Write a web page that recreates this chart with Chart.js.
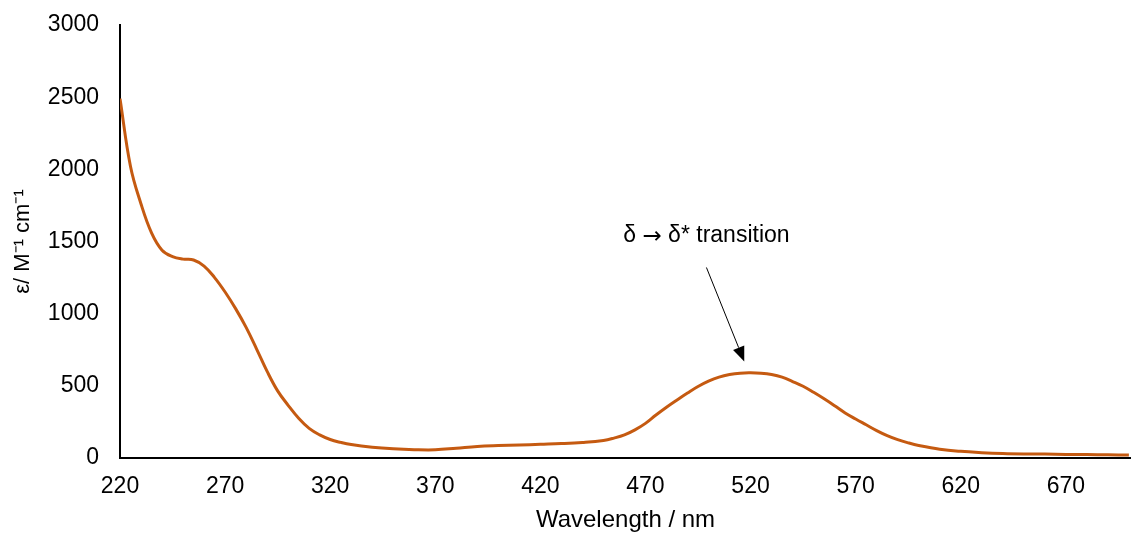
<!DOCTYPE html>
<html>
<head>
<meta charset="utf-8">
<script src="https://cdn.jsdelivr.net/npm/chart.js@4.4.1/dist/chart.umd.min.js"></script>
<style>
  body { margin: 0; background: #fff; }
  #wrap { width: 1131px; height: 535px; }
</style>
</head>
<body>
<div id="wrap"><canvas id="specChart" width="1131" height="535"></canvas></div>
<script>
// absorption spectrum
const wavelengths = [220, 225, 230, 235, 240, 245, 250, 255, 260, 265, 270, 275, 280, 285, 290, 295,
    300, 305, 310, 315, 320, 325, 330, 340, 350, 360, 370, 380, 390, 400, 410, 420, 430, 440,
    450, 455, 460, 465, 470, 475, 480, 485, 490, 495, 500, 505, 510, 515, 520, 525, 530, 535,
    540, 545, 550, 555, 560, 565, 570, 575, 580, 585, 590, 595, 600, 610, 620, 630, 640, 650,
    660, 670, 680, 690, 700];
const epsilon = [2490, 2020, 1760, 1560, 1440, 1395, 1378, 1372, 1330, 1250, 1150, 1035, 905, 755, 600, 465,
    365, 275, 205, 160, 128, 108, 93, 75, 64, 58, 57, 68, 80, 86, 90, 95, 100, 108,
    122, 138, 160, 195, 240, 298, 352, 402, 450, 495, 532, 560, 578, 588, 590, 587, 578, 560,
    530, 497, 455, 410, 362, 312, 270, 230, 190, 155, 127, 105, 87, 61, 46, 37, 31, 28,
    27, 25, 24, 22, 21];
const xTicks = [220, 270, 320, 370, 420, 470, 520, 570, 620, 670];
const yTicks = [0, 500, 1000, 1500, 2000, 2500, 3000];

// label pieces: the arrow glyph comes from DejaVu so it is full size
const annotationParts = ['δ ', '→', ' δ* transition'];
const annotationAt = [499, 1538];      // label centre (nm, epsilon)
const arrowFrom = [499, 1320];
const arrowTo = [517, 668];

const fontFamily = "Arial, 'Liberation Sans', sans-serif";

// text + arrow pointing at the band
const arrowNote = {
    id: 'arrowNote',
    afterDraw(chart) {
        const { ctx, scales: { x, y } } = chart;
        ctx.save();
        ctx.fillStyle = '#000';
        ctx.textAlign = 'left';
        ctx.textBaseline = 'middle';
        const fonts = ['23px ' + fontFamily, '23px "DejaVu Sans"', '23px ' + fontFamily];
        const widths = annotationParts.map((t, i) => { ctx.font = fonts[i]; return ctx.measureText(t).width; });
        const total = widths.reduce((a, b) => a + b, 0);
        let tx = x.getPixelForValue(annotationAt[0]) - total / 2;
        const ty = y.getPixelForValue(annotationAt[1]);
        annotationParts.forEach((t, i) => {
            ctx.font = fonts[i];
            ctx.fillText(t, tx, i === 1 ? ty + 1 : ty);
            tx += widths[i];
        });

        const x1 = x.getPixelForValue(arrowFrom[0]), y1 = y.getPixelForValue(arrowFrom[1]);
        const x2 = x.getPixelForValue(arrowTo[0]), y2 = y.getPixelForValue(arrowTo[1]);
        const ang = Math.atan2(y2 - y1, x2 - x1);
        const headLen = 15, headW = 6;
        ctx.strokeStyle = '#000';
        ctx.lineWidth = 1;
        ctx.beginPath();
        ctx.moveTo(x1, y1);
        ctx.lineTo(x2 - headLen * Math.cos(ang), y2 - headLen * Math.sin(ang));
        ctx.stroke();
        ctx.beginPath();
        ctx.moveTo(x2, y2);
        ctx.lineTo(x2 - headLen * Math.cos(ang) + headW * Math.sin(ang), y2 - headLen * Math.sin(ang) - headW * Math.cos(ang));
        ctx.lineTo(x2 - headLen * Math.cos(ang) - headW * Math.sin(ang), y2 - headLen * Math.sin(ang) + headW * Math.cos(ang));
        ctx.closePath();
        ctx.fill();
        ctx.restore();
    }
};

const ctx = document.getElementById('specChart').getContext('2d');
new Chart(ctx, {
    type: 'line',
    data: {
        datasets: [{
            data: wavelengths.map((w, i) => ({ x: w, y: epsilon[i] })),
            borderColor: '#C55A11',
            borderWidth: 3,
            pointRadius: 0,
            tension: 0.4,
            fill: false
        }]
    },
    options: {
        responsive: false,
        animation: false,
        layout: { padding: { top: 25, right: 0, left: 0, bottom: 0 } },
        plugins: {
            legend: { display: false },
            tooltip: { enabled: false }
        },
        scales: {
            x: {
                type: 'linear',
                min: 220,
                max: 701,
                afterBuildTicks: s => { s.ticks = xTicks.map(v => ({ value: v })); },
                afterFit: s => { s.height = 77; s.paddingLeft = 0; s.paddingRight = 0; },
                grid: { display: false, drawTicks: false },
                border: { display: true, color: '#000', width: 2 },
                ticks: { color: '#000', padding: 15, maxRotation: 0, font: { family: fontFamily, size: 23 } },
                title: {
                    display: true,
                    text: 'Wavelength / nm',
                    color: '#000',
                    padding: { top: 0, bottom: 0 },
                    font: { family: fontFamily, size: 24 }
                }
            },
            y: {
                min: 0,
                max: 3000,
                afterBuildTicks: s => { s.ticks = yTicks.map(v => ({ value: v })); },
                afterFit: s => { s.width = 120; s.paddingTop = 0; s.paddingBottom = 0; },
                grid: { display: false, drawTicks: false },
                border: { display: true, color: '#000', width: 2 },
                ticks: {
                    color: '#000',
                    padding: 21,
                    font: { family: fontFamily, size: 23 },
                    callback: v => String(v)
                },
                title: {
                    display: true,
                    text: 'ε/ M⁻¹ cm⁻¹',
                    color: '#000',
                    padding: { top: 10, bottom: 0 },
                    font: { family: fontFamily, size: 22 }
                }
            }
        }
    },
    plugins: [arrowNote]
});
</script>
</body>
</html>
